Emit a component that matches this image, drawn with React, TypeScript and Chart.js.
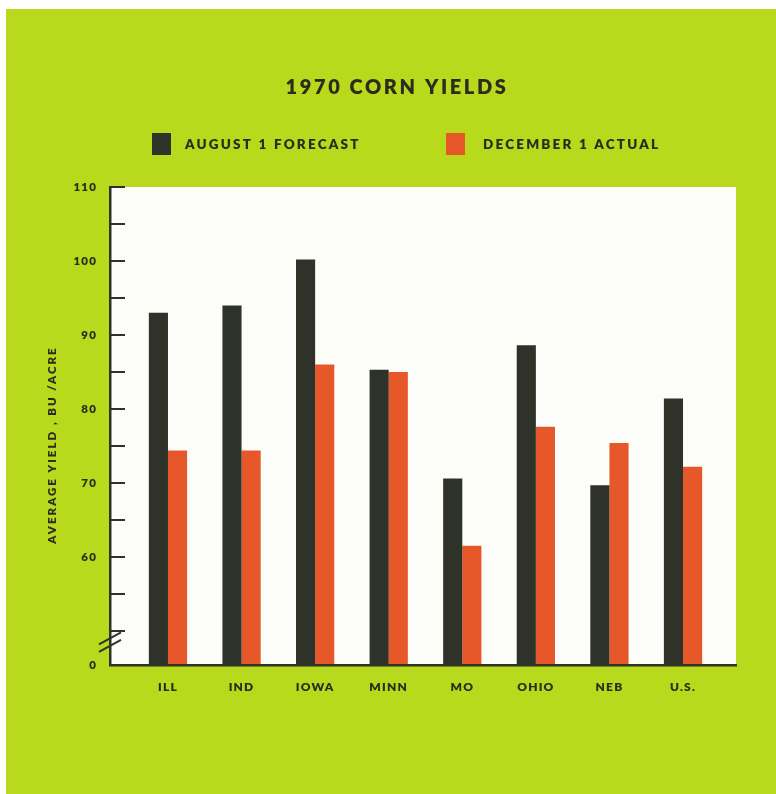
import { useEffect, useRef } from 'react';
import { Chart, registerables } from 'chart.js';

Chart.register(...registerables);

// ---- data ----
const TITLE = '1970 CORN YIELDS';
const STATES = ['ILL', 'IND', 'IOWA', 'MINN', 'MO', 'OHIO', 'NEB', 'U.S.'];
const SERIES_NAMES = ['AUGUST 1 FORECAST', 'DECEMBER 1 ACTUAL'];
const AUGUST_FORECAST = [93.0, 94.0, 100.2, 85.3, 70.6, 88.6, 69.7, 81.4];
const DECEMBER_ACTUAL = [74.4, 74.4, 86.0, 85.0, 61.5, 77.6, 75.4, 72.2];
const Y_TITLE = 'AVERAGE YIELD , BU /ACRE';
const Y_TICK_VALUES = [50, 55, 60, 65, 70, 75, 80, 85, 90, 95, 100, 105, 110];
const Y_LABELED_VALUES = [60, 70, 80, 90, 100, 110];
const Y_BASE_LABEL = '0';
const Y_BREAK_VALUES = [49.0, 48.0];
const Y_MIN = 45.4;
const Y_MAX = 110;

// ---- styling ----
const PAGE_GREEN = '#b8d91c';
const PLOT_WHITE = '#fcfcf8';
const DARK = '#2e3229';
const ORANGE = '#e6582a';
const INK = '#2a2d1c';
const FONT = 'Lato, "Open Sans", sans-serif';
const HEAVY = '800';

const decorPlugin = {
  id: 'decor',
  beforeDraw(chart: any) {
    const { ctx, chartArea: a } = chart;
    ctx.save();
    ctx.fillStyle = PLOT_WHITE;
    ctx.fillRect(a.left, a.top, a.right - a.left, a.bottom - a.top);
    ctx.restore();
    // spaced-out lettering for the axis tick labels
    ctx.letterSpacing = '1.2px';
  },
  afterDraw(chart: any) {
    const { ctx, chartArea: a } = chart;
    const yScale = chart.scales.y;
    ctx.letterSpacing = '0px';
    ctx.save();

    // inward tick marks on the value axis
    ctx.strokeStyle = DARK;
    ctx.lineWidth = 2;
    ctx.lineCap = 'butt';
    Y_TICK_VALUES.forEach((v) => {
      const y = Math.round(yScale.getPixelForValue(v));
      ctx.beginPath();
      ctx.moveTo(a.left, y);
      ctx.lineTo(a.left + 15, y);
      ctx.stroke();
    });

    // axis break symbol
    Y_BREAK_VALUES.forEach((v) => {
      const y = yScale.getPixelForValue(v);
      ctx.beginPath();
      ctx.moveTo(a.left - 11, y + 6);
      ctx.lineTo(a.left + 11, y - 6);
      ctx.stroke();
    });

    ctx.fillStyle = INK;

    // title
    ctx.font = `${HEAVY} 20px ${FONT}`;
    ctx.letterSpacing = '2.6px';
    ctx.textAlign = 'center';
    ctx.textBaseline = 'middle';
    ctx.fillText(TITLE, 391, 79);

    // legend
    const colors = [DARK, ORANGE];
    const boxX = [146, 440];
    const textX = [179, 477];
    ctx.font = `${HEAVY} 13.5px ${FONT}`;
    ctx.letterSpacing = '2.2px';
    ctx.textAlign = 'left';
    SERIES_NAMES.forEach((name, i) => {
      ctx.fillStyle = colors[i];
      ctx.fillRect(boxX[i], 124, 19, 22);
      ctx.fillStyle = INK;
      ctx.fillText(name, textX[i], 136);
    });

    // value-axis title
    ctx.font = `${HEAVY} 11.5px ${FONT}`;
    ctx.letterSpacing = '2px';
    ctx.textAlign = 'center';
    ctx.translate(46, 436);
    ctx.rotate(-Math.PI / 2);
    ctx.fillText(Y_TITLE, 0, 0);

    ctx.restore();
    ctx.letterSpacing = '0px';
  },
};

export default function App() {
  const canvasRef = useRef<HTMLCanvasElement | null>(null);

  useEffect(() => {
    document.body.style.overflow = 'hidden';
    const canvas = canvasRef.current;
    if (!canvas) return;

    const chart = new Chart(canvas, {
      type: 'bar',
      data: {
        datasets: [
          {
            label: SERIES_NAMES[0],
            data: AUGUST_FORECAST.map((y, i) => ({ x: i, y })),
            backgroundColor: DARK,
            borderWidth: 0,
            barPercentage: 1,
            categoryPercentage: 0.52,
          },
          {
            label: SERIES_NAMES[1],
            data: DECEMBER_ACTUAL.map((y, i) => ({ x: i, y })),
            backgroundColor: ORANGE,
            borderWidth: 0,
            barPercentage: 1,
            categoryPercentage: 0.52,
          },
        ],
      },
      options: {
        responsive: false,
        animation: false,
        devicePixelRatio: 1,
        layout: { padding: { left: 0, right: 40, top: 178, bottom: 89 } },
        plugins: {
          legend: { display: false },
          title: { display: false },
          tooltip: { enabled: false },
        },
        scales: {
          x: {
            type: 'linear',
            min: -0.788,
            max: 7.72,
            offset: false,
            grid: { display: false, drawTicks: false },
            border: { display: true, color: DARK, width: 2.5, z: 1 },
            afterBuildTicks: (scale: any) => {
              scale.ticks = STATES.map((_, i) => ({ value: i }));
            },
            afterFit: (scale: any) => {
              scale.height = 40;
            },
            ticks: {
              autoSkip: false,
              maxRotation: 0,
              minRotation: 0,
              padding: 15,
              color: INK,
              font: { family: FONT, weight: HEAVY, size: 12 },
              callback: (v: any) => STATES[v] ?? '',
            },
          },
          y: {
            type: 'linear',
            min: Y_MIN,
            max: Y_MAX,
            bounds: 'data',
            grid: { display: false, drawTicks: false },
            border: { display: true, color: DARK, width: 2.5, z: 1 },
            afterBuildTicks: (scale: any) => {
              scale.ticks = [{ value: Y_MIN }, ...Y_TICK_VALUES.map((v) => ({ value: v }))];
            },
            afterFit: (scale: any) => {
              scale.width = 104;
            },
            ticks: {
              padding: 13,
              color: INK,
              font: { family: FONT, weight: HEAVY, size: 11.5 },
              callback: (v: any) =>
                v === Y_MIN ? Y_BASE_LABEL : Y_LABELED_VALUES.includes(v) ? String(v) : '',
            },
          },
        },
      },
      plugins: [decorPlugin],
    });

    return () => chart.destroy();
  }, []);

  return (
    <div
      style={{
        position: 'absolute',
        left: 6,
        top: 9,
        width: 770,
        height: 785,
        background: PAGE_GREEN,
      }}
    >
      <canvas ref={canvasRef} width={770} height={785} style={{ display: 'block' }} />
    </div>
  );
}
